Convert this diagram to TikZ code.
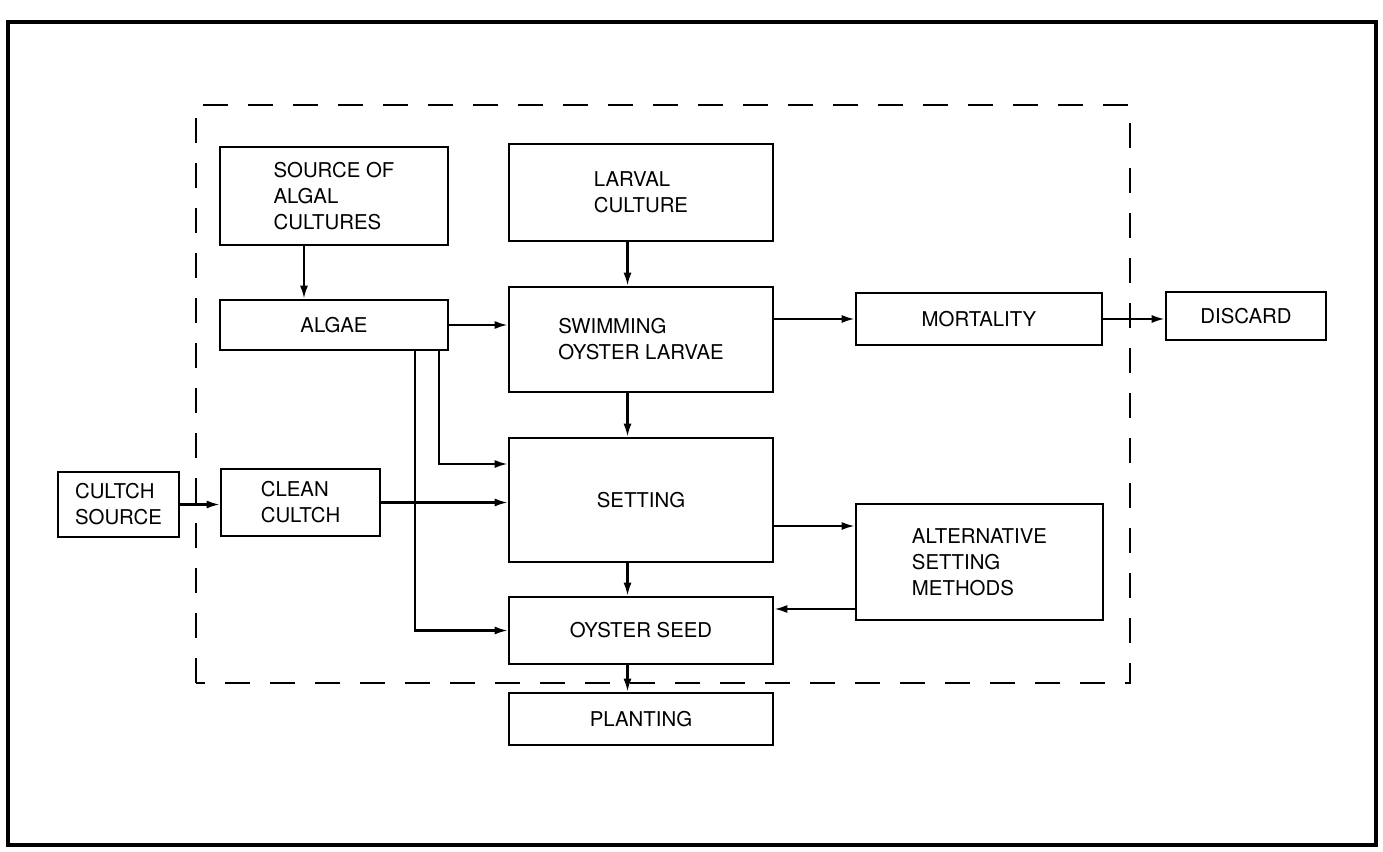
\documentclass[tikz,border=0pt]{standalone}
\usepackage{fontspec}
\setmainfont{TeX Gyre Heros}
\usetikzlibrary{arrows.meta,calc,positioning}

\begin{document}
\begin{tikzpicture}[x=1cm,y=1cm,every node/.style={font=\fontsize{11.6}{14.8}\selectfont},
  box/.style={draw,line width=1.5pt,inner sep=0pt,align=center},
  flow/.style={-{Latex[length=2.6mm,width=1.6mm]},line width=1.2pt}]
  \useasboundingbox (0,0) rectangle (27.66,17.02);
  \draw[line width=2.2pt] (0.16,0.12) rectangle (27.52,16.58);
  \draw[line width=1.1pt,dash pattern=on 0.5cm off 0.4cm] (3.92,3.36) rectangle (22.60,14.92);
  % boxes
  \node[box,align=left,minimum width=4.56cm,minimum height=1.96cm] (src) at (6.68,13.10) {SOURCE OF\\ALGAL\\CULTURES};
  \node[box,align=left,minimum width=5.28cm,minimum height=1.94cm] (larval) at (12.82,13.17) {LARVAL\\CULTURE};
  \node[box,minimum width=4.56cm,minimum height=1.00cm] (algae) at (6.68,10.52) {ALGAE};
  \node[box,align=left,minimum width=5.28cm,minimum height=2.10cm] (swim) at (12.82,10.23) {SWIMMING\\OYSTER LARVAE};
  \node[box,minimum width=4.92cm,minimum height=1.04cm] (mort) at (19.58,10.64) {MORTALITY};
  \node[box,minimum width=3.20cm,minimum height=0.96cm] (disc) at (24.92,10.70) {DISCARD};
  \node[box,align=left,minimum width=2.42cm,minimum height=1.30cm] (cultchsrc) at (2.37,6.93) {CULTCH\\SOURCE};
  \node[box,align=left,minimum width=3.18cm,minimum height=1.34cm] (clean) at (6.01,6.97) {CLEAN\\CULTCH};
  \node[box,minimum width=5.28cm,minimum height=2.48cm] (setting) at (12.82,7.02) {SETTING};
  \node[box,align=left,minimum width=4.94cm,minimum height=2.32cm] (alt) at (19.59,5.78) {ALTERNATIVE\\SETTING\\METHODS};
  \node[box,minimum width=5.28cm,minimum height=1.34cm] (seed) at (12.82,4.41) {OYSTER SEED};
  \node[box,minimum width=5.28cm,minimum height=1.04cm] (plant) at (12.82,2.64) {PLANTING};
  \coordinate (altin) at ([yshift=0.72cm]alt.west);
  \coordinate (altout) at ([yshift=-0.94cm]alt.west);
  % arrows
  \draw[flow] ([xshift=-0.6cm]src.south) -- ([xshift=-0.6cm]algae.north);
  \draw[flow] ([xshift=-0.27cm]larval.south) -- ([xshift=-0.27cm]swim.north);
  \draw[flow] ([xshift=-0.27cm]swim.south) -- ([xshift=-0.27cm]setting.north);
  \draw[flow] ([xshift=-0.27cm]setting.south) -- ([xshift=-0.27cm]seed.north);
  \draw[flow] ([xshift=-0.27cm]seed.south) -- ([xshift=-0.27cm]plant.north);
  \draw[flow] (algae.east) -- (algae.east -| swim.west);
  \draw[flow] ([xshift=2.1cm]algae.south) |- ([yshift=0.72cm]setting.west);
  \draw[flow] ([xshift=1.62cm]algae.south) |- (seed.west);
  \draw[flow] (cultchsrc.east) -- (cultchsrc.east -| clean.west);
  \draw[flow] (clean.east) -- (clean.east -| setting.west);
  \draw[flow] (mort.west -| swim.east) -- (mort.west);
  \draw[flow] (mort.east) -- (mort.east -| disc.west);
  \draw[flow] (altin -| setting.east) -- (altin);
  \draw[flow] (altout) -- (altout -| seed.east);
\end{tikzpicture}
\end{document}
